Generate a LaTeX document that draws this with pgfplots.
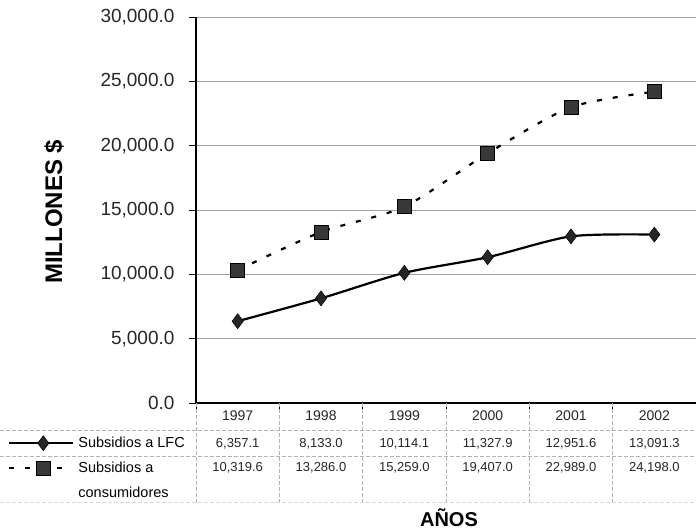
\documentclass[border=0pt]{standalone}
\usepackage{pgfplots}
\pgfplotsset{compat=1.18}
\usepackage{fontspec}
\setmainfont{Liberation Sans}
\begin{document}
\begin{tikzpicture}[x=1pt,y=1pt]
\path[use as bounding box] (0,0) rectangle (696,530);
\begin{axis}[
  at={(196pt,127pt)}, anchor=south west,
  scale only axis, width=500pt, height=386pt,
  xmin=-0.5, xmax=5.5, ymin=0, ymax=30000,
  clip=false,
  axis x line=bottom, axis y line=left,
  axis line style={-, black, line width=1.4pt},
  x axis line style={line width=2pt},
  ytick={0,5000,...,30000},
  ymajorgrids, grid style={gray!75, line width=0.8pt},
  xtick={-0.5,0.5,...,5.5}, xticklabels={},
  tick align=outside, major tick length=7pt,
  tick style={black, line width=0.8pt},
  scaled y ticks=false,
  yticklabel style={font=\fontsize{19}{22}\selectfont, text=black!85, xshift=-11pt,
    /pgf/number format/.cd, fixed, fixed zerofill, precision=1, 1000 sep={,}, assume math mode=true},
  ylabel={MILLONES \$},
  ylabel style={font=\bfseries\fontsize{24}{28}\selectfont, at={(axis description cs:-0.284,0.495)}, anchor=center},
  xlabel={AÑOS},
  xlabel style={font=\bfseries\fontsize{20}{24}\selectfont, at={(axis description cs:0.506,-0.297)}, anchor=center},
  legend style={at={(axis description cs:-0.376,-0.083)}, anchor=north west, draw=none, fill=none,
    font=\fontsize{14.5}{16}\selectfont, row sep=9pt, inner sep=0pt, column sep=2pt},
  legend cell align=left,
  legend image code/.code={\draw[mark repeat=2, mark phase=2, #1] plot coordinates {(0pt,0pt) (34pt,0pt) (64pt,0pt)};},
]
\addplot[black, line width=2.2pt, smooth, tension=0.45, mark=diamond*, mark size=7.5pt,
  mark options={solid, fill=black!85, draw=black, line width=0.5pt}]
  coordinates {(0,6357.1)(1,8133.0)(2,10114.1)(3,11327.9)(4,12951.6)(5,13091.3)};
\addlegendentry{Subsidios a LFC}
\addplot[black, line width=2.2pt, dash pattern=on 5pt off 11pt, smooth, tension=0.45, mark=square*, mark size=7pt,
  mark options={solid, fill=black!78, draw=black, line width=0.5pt}]
  coordinates {(0,10319.6)(1,13286.0)(2,15259.0)(3,19407.0)(4,22989.0)(5,24198.0)};
\addlegendentry{Subsidios a}
\addlegendimage{empty legend}
\addlegendentry{consumidores}
\end{axis}
% table grid
\begin{scope}[gray!60, line width=0.7pt, dash pattern=on 4pt off 2pt]
\draw (0,100) -- (696,100);
\draw (0,74) -- (696,74);
\draw[gray!30] (0,28) -- (696,28);
\foreach \k in {0,...,5} { \draw (196+83.333*\k,127) -- (196+83.333*\k,28); }
\end{scope}
% table text
\foreach \yr [count=\i from 0] in {1997,1998,1999,2000,2001,2002}
  \node[font=\fontsize{14}{16}\selectfont, text=black!85] at (196+83.333*\i+41.667,114) {\yr};
\foreach \v [count=\i from 0] in {{6,357.1},{8,133.0},{10,114.1},{11,327.9},{12,951.6},{13,091.3}}
  \node[font=\fontsize{13}{15}\selectfont, text=black!85] at (196+83.333*\i+41.667,86) {\v};
\foreach \v [count=\i from 0] in {{10,319.6},{13,286.0},{15,259.0},{19,407.0},{22,989.0},{24,198.0}}
  \node[font=\fontsize{13}{15}\selectfont, text=black!85] at (196+83.333*\i+41.667,62) {\v};
\end{tikzpicture}
\end{document}
